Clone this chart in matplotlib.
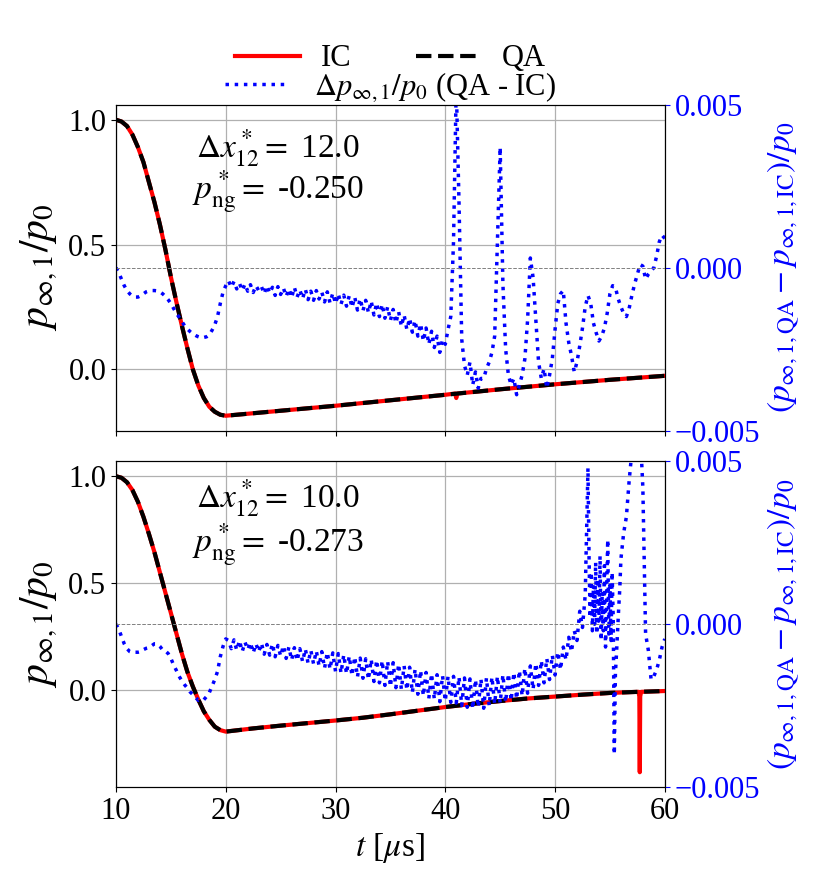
import numpy as np
import matplotlib
matplotlib.use('Agg')
import matplotlib.pyplot as plt

plt.rcParams['font.family'] = ['Liberation Serif', 'DejaVu Serif']
plt.rcParams['mathtext.fontset'] = 'stix'

# main curves p_inf,1/p0 (QA), both panels share the time points
t_main = [10.0, 10.5, 11.0, 11.5, 12.0, 12.5, 13.0, 13.5, 14.0, 14.5,
          15.0, 15.5, 16.0, 16.5, 17.0, 17.5, 18.0, 18.5, 19.0, 19.5,
          20.0, 22.5, 25.0, 27.5, 30.0, 32.5, 35.0, 37.5, 40.0, 42.5,
          45.0, 47.5, 50.0, 52.5, 55.0, 57.5, 60.0]
p_top = [1.0, 0.993, 0.975, 0.94, 0.89, 0.83, 0.75, 0.67, 0.58, 0.48,
         0.37, 0.27, 0.175, 0.085, 0.0, -0.065, -0.115, -0.15, -0.17, -0.182,
         -0.186, -0.176, -0.166, -0.156, -0.146, -0.135, -0.124, -0.113, -0.102, -0.091,
         -0.08, -0.07, -0.06, -0.051, -0.042, -0.034, -0.026]
p_bot = [1.0, 0.993, 0.972, 0.935, 0.88, 0.81, 0.73, 0.645, 0.55, 0.455,
         0.36, 0.265, 0.17, 0.085, 0.016, -0.045, -0.1, -0.14, -0.172, -0.188,
         -0.195, -0.18, -0.167, -0.155, -0.143, -0.13, -0.114, -0.097, -0.08, -0.065,
         -0.052, -0.04, -0.031, -0.022, -0.014, -0.009, -0.005]

# spikes where IC departs from QA
ic_spike_t_top = [40.9, 41.0, 41.1]
ic_spike_p_top = [-0.097, -0.115, -0.097]
ic_spike_t_bot = [57.6, 57.68, 57.72, 57.76, 57.84]
ic_spike_p_bot = [-0.009, -0.03, -0.385, -0.03, -0.009]

# (QA - IC)/p0 in units of 1e-3
t_dp_top = np.arange(40, 241) / 4.0
dp_top = [0.0, -0.15, -0.35, -0.55, -0.7, -0.8, -0.87, -0.9, -0.9, -0.86,
          -0.8, -0.74, -0.71, -0.7, -0.7, -0.71, -0.74, -0.8, -0.88, -0.98,
          -1.1, -1.25, -1.4, -1.52, -1.65, -1.78, -1.88, -1.96, -2.03, -2.08,
          -2.12, -2.15, -2.14, -2.12, -2.06, -1.92, -1.75, -1.5, -1.1, -0.75,
          -0.55, -0.4, -0.6, -0.42, -0.65, -0.48, -0.7, -0.5, -0.72, -0.52,
          -0.76, -0.55, -0.7, -0.58, -0.8, -0.55, -0.78, -0.6, -0.85, -0.58,
          -0.82, -0.62, -0.88, -0.65, -0.92, -0.6, -0.9, -0.68, -0.95, -0.66,
          -0.98, -0.72, -1.0, -0.7, -0.96, -0.75, -1.05, -0.74, -1.08, -0.78,
          -1.1, -0.8, -1.12, -0.84, -1.18, -0.86, -1.22, -0.9, -1.3, -0.95,
          -1.32, -1.0, -1.38, -1.02, -1.45, -1.08, -1.5, -1.12, -1.55, -1.2,
          -1.62, -1.28, -1.7, -1.35, -1.8, -1.45, -1.9, -1.55, -1.98, -1.62,
          -2.1, -1.72, -2.25, -1.85, -2.35, -1.95, -2.45, -2.1, -2.6, -2.2,
          -2.35, -1.9, -1.5, 0.8, 5.6, 2.0, -2.2, -3.0, -3.3, -2.9,
          -3.6, -3.2, -3.7, -3.4, -3.4, -3.1, -2.9, -2.6, -2.1, 0.8,
          3.7, -0.5, -2.5, -3.3, -3.6, -3.4, -3.9, -3.6, -3.3, -2.8,
          -1.6, 0.3, -0.3, -1.6, -2.9, -3.4, -3.1, -3.7, -3.3, -2.8,
          -1.9, -1.1, -0.8, -0.7, -1.7, -2.3, -2.7, -3.2, -2.9, -2.4,
          -1.85, -1.2, -0.85, -1.1, -1.7, -2.0, -2.25, -2.1, -1.85, -1.4,
          -0.8, -0.55, -0.6, -0.95, -1.2, -1.4, -1.5, -1.25, -0.85, -0.5,
          -0.2, 0.1, 0.05, -0.35, -0.2, -0.1, 0.0, 0.35, 0.8, 1.0,
          0.9]

t_dp_bot = np.concatenate([np.arange(40, 212) / 4.0,
                           np.arange(530, 560) / 10.0,
                           np.arange(224, 241) / 4.0])
dp_bot = [0.0, -0.15, -0.38, -0.6, -0.75, -0.84, -0.87, -0.86, -0.86, -0.84,
          -0.78, -0.74, -0.72, -0.66, -0.6, -0.6, -0.68, -0.79, -0.82, -0.9,
          -1.05, -1.25, -1.42, -1.6, -1.74, -1.86, -1.96, -2.08, -2.16, -2.25,
          -2.34, -2.3, -2.32, -2.22, -2.1, -1.9, -1.7, -1.45, -1.0, -0.68,
          -0.45, -0.5, -0.75, -0.48, -0.8, -0.5, -0.84, -0.55, -0.78, -0.56,
          -0.88, -0.6, -0.85, -0.58, -0.92, -0.62, -0.95, -0.6, -1.0, -0.65,
          -0.98, -0.66, -1.05, -0.7, -1.1, -0.72, -1.12, -0.75, -1.15, -0.76,
          -1.2, -0.8, -1.22, -0.82, -1.28, -0.84, -1.35, -0.86, -1.38, -0.88,
          -1.45, -0.9, -1.5, -0.94, -1.52, -0.98, -1.58, -1.0, -1.62, -1.04,
          -1.66, -1.06, -1.7, -1.08, -1.76, -1.1, -1.8, -1.12, -1.88, -1.14,
          -1.92, -1.18, -1.95, -1.22, -2.0, -1.28, -2.02, -1.32, -2.1, -1.38,
          -2.15, -1.42, -2.2, -1.48, -2.28, -1.52, -2.3, -1.55, -2.38, -1.58,
          -2.36, -1.6, -2.4, -1.6, -2.42, -1.62, -2.5, -1.65, -2.55, -1.68,
          -2.6, -1.7, -2.55, -1.68, -2.58, -1.65, -2.5, -1.62, -2.45, -1.6,
          -2.42, -1.55, -2.4, -1.52, -2.35, -1.48, -2.3, -1.42, -2.2, -1.35,
          -2.12, -1.28, -2.0, -1.2, -1.88, -1.12, -1.8, -1.05, -1.7, -0.95,
          -1.56, -0.85, -1.4, -0.7, -1.1, -0.4, -0.85, -0.2, -0.5, 0.4,
          -0.1, 0.9,
          4.8, 2.0, 0.2, 1.6, -0.2, 1.2, 0.0, 1.9, -0.3, 1.4,
          0.1, 2.1, -0.5, 1.0, -0.2, 1.8, -0.7, 0.9, 2.6, -0.3,
          1.2, -0.5, 1.6, 0.2, -4.0, -1.5, -0.9, -0.2, 0.5, 1.1,
          2.0, 2.8, 3.3, 4.4, 5.3, 6.5, 7.0, 6.0, 4.2, -0.3,
          -0.8, -1.7, -1.6, -1.4, -1.1, -0.7, -0.45]

labels_dx = [r'$\Delta x^*_{12}$$=$ 12.0', r'$\Delta x^*_{12}$$=$ 10.0']
labels_png = [r'$p^*_{\rm ng}$$=$ -0.250', r'$p^*_{\rm ng}$$=$ -0.273']


def add_spike(t, p, ts, ps):
    tt = np.concatenate([t, ts])
    pp = np.concatenate([p, ps])
    o = np.argsort(tt)
    return tt[o], pp[o]


fig, axes = plt.subplots(2, 1, sharex=True, figsize=(8.31, 8.92), dpi=100)
fig.subplots_adjust(left=0.1396, right=0.800, top=0.8823, bottom=0.1177, hspace=0.095)

panels = [(p_top, ic_spike_t_top, ic_spike_p_top, t_dp_top, dp_top),
          (p_bot, ic_spike_t_bot, ic_spike_p_bot, t_dp_bot, dp_bot)]
text_y = [(0.840, 0.712), (0.858, 0.723)]
twins = []
for i, (ax, (p_qa, st, sp, t_dp, dp)) in enumerate(zip(axes, panels)):
    t_ic, p_ic = add_spike(t_main, p_qa, st, sp)
    ax.plot(t_ic, p_ic, color='red', lw=3, label='IC')
    ax.plot(t_main, p_qa, color='black', ls='--', lw=3, label='QA')
    ax.grid(True, color='#b0b0b0', lw=0.9)
    ax.set_yticks([0.0, 0.5, 1.0])
    ax.tick_params(labelsize=22)
    ax.set_ylabel(r'$p_{\infty,1}/p_0$', fontsize=30, labelpad=6)
    ax.text(0.295, text_y[i][0], labels_dx[i], transform=ax.transAxes,
            ha='center', va='baseline', fontsize=24)
    ax.text(0.295, text_y[i][1], labels_png[i], transform=ax.transAxes,
            ha='center', va='baseline', fontsize=24)

    ax2 = ax.twinx()
    ax2.plot(t_dp, np.array(dp) * 1e-3, color='blue', ls=':', lw=2.5,
             label=r'$\Delta p_{\infty,1}/p_0$ (QA - IC)')
    ax2.axhline(0, color='gray', ls='--', lw=0.7)
    ax2.set_ylim(-0.005, 0.005)
    ax2.set_yticks([-0.005, 0.0, 0.005])
    ax2.tick_params(axis='y', colors='blue', labelsize=22)
    ax2.set_ylabel(r'$(p_{\infty,1,\rm QA} - p_{\infty,1,\rm IC})/p_0$',
                   color='blue', fontsize=24)
    twins.append(ax2)

axes[1].set_xlim(10, 60)
axes[1].set_xticks([10, 20, 30, 40, 50, 60])
axes[1].set_xlabel(r'$t$ [$\mu$s]', fontsize=24)

axes[0].legend(loc='lower center', bbox_to_anchor=(0.5, 1.06), ncol=2,
               frameon=False, fontsize=22, columnspacing=2.1, handlelength=2.1,
               handletextpad=0.7, borderaxespad=0)
twins[0].legend(loc='lower center', bbox_to_anchor=(0.5, 0.965),
                frameon=False, fontsize=22, handlelength=2.1,
                handletextpad=0.8, borderaxespad=0)

fig.savefig('out.png', dpi=100)
